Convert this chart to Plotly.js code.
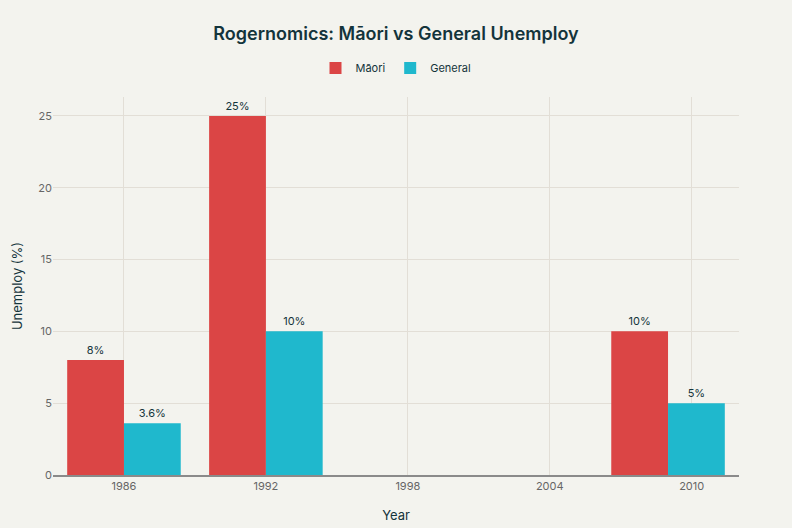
<!DOCTYPE html>
<html>
<head>
<meta charset="utf-8">
<script src="https://cdn.plot.ly/plotly-3.0.1.min.js"></script>
<style>html,body{margin:0;padding:0;background:#F3F3EE;}#chart{width:792px;height:528px;}</style>
</head>
<body>
<div id="chart"></div>
<script>
const years = [1986, 1992, 2009];
const maoriValues = [8, 25, 10];
const generalValues = [3.6, 10, 5];
const maoriLabels = ["8%", "25%", "10%"];
const generalLabels = ["3.6%", "10%", "5%"];
const xTickVals = [1986, 1992, 1998, 2004, 2010];

const traces = [
  {type: 'bar', name: 'Māori', x: years, y: maoriValues, text: maoriLabels,
   textposition: 'outside', cliponaxis: false,
   textfont: {size: 11, color: '#13343B'}, marker: {color: '#DB4545'}},
  {type: 'bar', name: 'General', x: years, y: generalValues, text: generalLabels,
   textposition: 'outside', cliponaxis: false,
   textfont: {size: 11, color: '#13343B'}, marker: {color: '#1FB8CD'}}
];

const layout = {
  width: 792, height: 528,
  paper_bgcolor: '#F3F3EE', plot_bgcolor: '#F3F3EE',
  font: {family: 'Inter, "Noto Sans", sans-serif', color: '#13343B', size: 12},
  title: {text: 'Rogernomics: Māori vs General Unemploy', x: 0.5, xanchor: 'center', y: 0.937, yanchor: 'middle',
          font: {size: 18, color: '#13343B', family: 'Inter, "Noto Sans", sans-serif', weight: 600}},
  barmode: 'group',
  showlegend: true,
  legend: {orientation: 'h', x: 0.5, xanchor: 'center', y: 1.077, yanchor: 'middle',
           font: {size: 11, color: '#13343B'}},
  margin: {l: 53, r: 53, t: 97, b: 53},
  xaxis: {title: {text: 'Year', font: {size: 13, color: '#13343B'}, standoff: 19},
          tickmode: 'array', tickvals: xTickVals, ticktext: xTickVals.map(String),
          tickfont: {size: 11, color: '#666666'},
          showgrid: true, gridcolor: '#E2DED6', showline: true, linecolor: '#8A8A8A', linewidth: 1.5,
          zeroline: false, ticks: ''},
  yaxis: {title: {text: 'Unemploy (%)', font: {size: 13, color: '#13343B'}, standoff: 12},
          tickfont: {size: 11, color: '#666666'}, dtick: 5,
          showgrid: true, gridcolor: '#E2DED6', zeroline: false, showline: false, ticks: ''}
};

Plotly.newPlot('chart', traces, layout, {displayModeBar: false});
</script>
</body>
</html>
